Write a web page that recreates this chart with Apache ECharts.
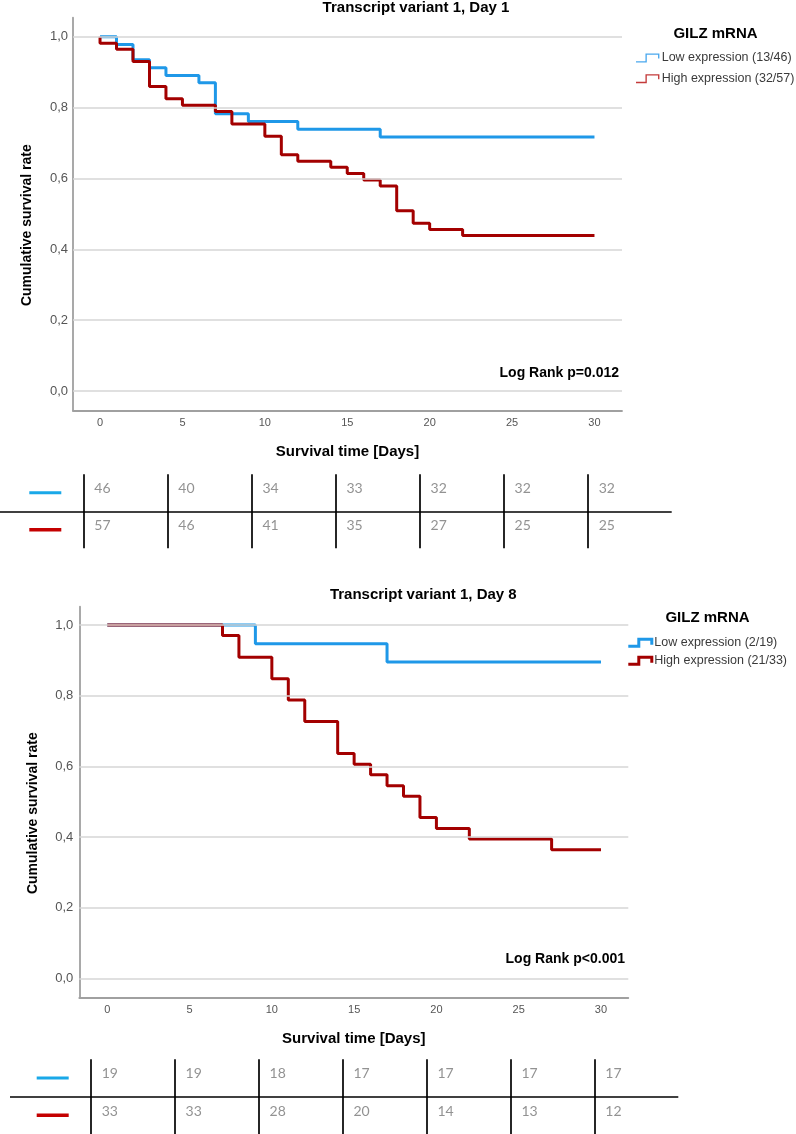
<!DOCTYPE html>
<html><head><meta charset="utf-8">
<script src="https://cdn.jsdelivr.net/npm/echarts@6/dist/echarts.min.js"></script>
<style>html,body{margin:0;padding:0;background:#fff}#c{width:796px;height:1134px}</style>
</head><body><div id="c"></div>
<script>
// ---------- data ----------
const TIME_TICKS = [0, 5, 10, 15, 20, 25, 30];
const Y_TICKS = [0, 0.2, 0.4, 0.6, 0.8, 1.0];
const RISK_COLUMNS = [0, 1, 2, 3, 4, 5, 6];

// Day 1
const d1Title = 'Transcript variant 1, Day 1';
const d1LowName = 'Low expression (13/46)';
const d1HighName = 'High expression (32/57)';
const d1LowTime = [0, 1, 2, 3, 4, 6, 7, 9, 12, 17, 30];
const d1LowSurv = [1, 0.978, 0.935, 0.913, 0.891, 0.870, 0.783, 0.761, 0.739, 0.717, 0.717];
const d1HighTime = [0, 0, 1, 2, 3, 4, 5, 7, 8, 10, 11, 12, 14, 15, 16, 17, 18, 19, 20, 22, 30];
const d1HighSurv = [1, 0.982, 0.965, 0.930, 0.860, 0.825, 0.807, 0.789, 0.754, 0.719, 0.667, 0.649, 0.632, 0.614, 0.596, 0.579, 0.509, 0.474, 0.456, 0.439, 0.439];
const d1LowRisk = [46, 40, 34, 33, 32, 32, 32];
const d1HighRisk = [57, 46, 41, 35, 27, 25, 25];
const d1LogRank = 'Log Rank p=0.012';

// Day 8
const d8Title = 'Transcript variant 1, Day 8';
const d8LowName = 'Low expression (2/19)';
const d8HighName = 'High expression (21/33)';
const d8LowTime = [0, 9, 17, 30];
const d8LowSurv = [1, 0.947, 0.895, 0.895];
const d8HighTime = [0, 7, 8, 10, 11, 12, 14, 15, 16, 17, 18, 19, 20, 22, 27, 30];
const d8HighSurv = [1, 0.970, 0.909, 0.848, 0.788, 0.727, 0.636, 0.606, 0.576, 0.545, 0.515, 0.455, 0.424, 0.394, 0.364, 0.364];
const d8LowRisk = [19, 19, 18, 17, 17, 17, 17];
const d8HighRisk = [33, 33, 28, 20, 14, 13, 12];
const d8LogRank = 'Log Rank p<0.001';

const LEGEND_TITLE = 'GILZ mRNA';
const X_NAME = 'Survival time [Days]';
const Y_NAME = 'Cumulative survival rate';

// ---------- style ----------
const FONT = '"Liberation Sans", Arial, sans-serif';
const BLUE = '#1f98e8';
const RED = '#a30000';
const AXIS_COLOR = '#a0a0a0';
const GRID_COLOR = '#d6d6d6';

const pts = (t, s) => t.map((v, i) => [v, s[i]]);
const riskRows = (arr, row) => arr.map((v, i) => [RISK_COLUMNS[i], row, v]);

function chartAxes(gridIndex, xmin, xmax, ymin, ymax, yLabelMargin) {
  const x = {
    type: 'value', gridIndex, min: xmin, max: xmax,
    axisLine: { show: true, onZero: false, lineStyle: { color: AXIS_COLOR, width: 1.8 } },
    axisTick: { show: false }, splitLine: { show: false },
    axisLabel: { customValues: TIME_TICKS, margin: 7, fontSize: 11, color: '#555', fontFamily: FONT },
    name: X_NAME, nameLocation: 'middle', nameGap: 34,
    nameTextStyle: { fontSize: 15, fontWeight: 'bold', color: '#000', fontFamily: FONT }
  };
  const y = {
    type: 'value', gridIndex, min: ymin, max: ymax, position: 'left',
    axisLine: { show: true, onZero: false, lineStyle: { color: AXIS_COLOR, width: 1.8 } },
    axisTick: { show: false }, splitLine: { show: false },
    axisLabel: { customValues: Y_TICKS, margin: yLabelMargin, fontSize: 13, color: '#555', fontFamily: FONT,
      formatter: v => v.toFixed(1).replace('.', ',') },
    name: Y_NAME, nameLocation: 'middle', nameGap: 39,
    nameTextStyle: { fontSize: 14, fontWeight: 'bold', color: '#000', fontFamily: FONT, padding: [0, 22, 0, 0] }
  };
  return [x, y];
}

function gridLineSeries(xi, yi) {
  return {
    type: 'line', xAxisIndex: xi, yAxisIndex: yi, data: [], z: 1,
    markLine: { silent: true, symbol: ['none', 'none'], label: { show: false }, animation: false,
      lineStyle: { color: GRID_COLOR, width: 1.5, type: 'solid' },
      data: Y_TICKS.map(v => ({ yAxis: v })) }
  };
}
function curve(name, xi, yi, data, color) {
  return { type: 'line', name, xAxisIndex: xi, yAxisIndex: yi, step: 'end', showSymbol: false, symbol: 'none',
    data, lineStyle: { color, width: 3 }, itemStyle: { color }, z: 3 };
}
function tableSeries(xi, yi, low, high) {
  return [
    { type: 'scatter', xAxisIndex: xi, yAxisIndex: yi, symbolSize: 0, silent: true,
      data: [...riskRows(low, 1.5), ...riskRows(high, 0.5)],
      label: { show: true, position: 'right', distance: 11, offset: [0, -4],
        formatter: p => String(p.value[2]), fontFamily: 'Lato, "Noto Sans", sans-serif', fontWeight: 'normal',
        fontSize: 14, color: '#777' } },
    { type: 'line', xAxisIndex: xi, yAxisIndex: yi, data: [],
      markLine: { silent: true, symbol: ['none', 'none'], label: { show: false }, animation: false,
        lineStyle: { color: '#000', width: 1.7, type: 'solid' },
        data: [...RISK_COLUMNS.map(c => ({ xAxis: c })), { yAxis: 1 }] } }
  ];
}
function tableAxes(gridIndex, xmin, markerMargin) {
  return {
    x: { type: 'value', gridIndex, min: xmin, max: 7, show: false },
    yv: { type: 'value', gridIndex, min: 0, max: 2, show: false, position: 'left' },
    yc: { type: 'category', gridIndex, data: ['High', 'Low'], position: 'left',
      axisLine: { show: false }, axisTick: { show: false }, splitLine: { show: false },
      axisLabel: { inside: true, margin: markerMargin,
        formatter: v => v === 'Low' ? '{lo| }' : '{hi| }',
        rich: { lo: { width: 32, height: 3, backgroundColor: '#19a8e8' },
                hi: { width: 32, height: 3.5, backgroundColor: '#c40000' } } } }
  };
}

const [x0, y0] = chartAxes(0, -1.64, 31.67, -0.0556, 1.054, 5);
const [x2, y2] = chartAxes(2, -1.70, 31.66, -0.0549, 1.0518, 6);
const t1 = tableAxes(1, -0.9908, 29.3);
const t2 = tableAxes(3, -0.9607, 26.7);

const ICON_THIN = 'path://M0,8.5L10.5,8.5L10.5,0L26,0L26,5.5L24.5,5.5L24.5,1.5L12,1.5L12,10L0,10Z';
const ICON_THICK = 'path://M0,7L9,7L9,0L25,0L25,7L22,7L22,3L12,3L12,10L0,10Z';

function titleAt(text, left, top, align, size, color) {
  return { text, left, top, textAlign: align, textVerticalAlign: 'middle', padding: 0,
    textStyle: { fontSize: size, fontWeight: 'bold', color: color || '#000', fontFamily: FONT } };
}

const option = {
  animation: false,
  backgroundColor: '#fff',
  title: [
    titleAt(d1Title, 416, 8, 'center', 15),
    titleAt(LEGEND_TITLE, 715.5, 33.5, 'center', 15),
    titleAt(d1LogRank, 619, 373.3, 'right', 14),
    titleAt(d8Title, 423.3, 595, 'center', 15),
    titleAt(LEGEND_TITLE, 707.5, 618.3, 'center', 15),
    titleAt(d8LogRank, 625, 959, 'right', 14)
  ],
  legend: [
    { orient: 'vertical', left: 636, top: 51.5, padding: 0, itemWidth: 26, itemHeight: 9, itemGap: 7.7,
      selectedMode: false, itemStyle: { borderWidth: 0 },
      textStyle: { fontSize: 12.5, color: '#3a3a3a', fontFamily: FONT, padding: [0, 0, 0, -4] },
      data: [ { name: d1LowName, icon: ICON_THIN, itemStyle: { color: '#4aa8ee' } },
              { name: d1HighName, icon: ICON_THIN, itemStyle: { color: '#c43a3a' } } ] },
    { orient: 'vertical', left: 628.3, top: 636.2, padding: 0, itemWidth: 25, itemHeight: 11, itemGap: 5,
      selectedMode: false, itemStyle: { borderWidth: 0 },
      textStyle: { fontSize: 12.5, color: '#3a3a3a', fontFamily: FONT, padding: [0, 0, 0, -4] },
      data: [ { name: d8LowName, icon: ICON_THICK, itemStyle: { color: BLUE } },
              { name: d8HighName, icon: ICON_THICK, itemStyle: { color: RED } } ] }
  ],
  grid: [
    { left: 73, top: 17.7, width: 549, height: 393 },
    { left: 0, top: 474.3, width: 671.7, height: 74 },
    { left: 79.3, top: 606.7, width: 549, height: 391 },
    { left: 10, top: 1059.3, width: 668.3, height: 74.7 }
  ],
  xAxis: [x0, t1.x, x2, t2.x],
  yAxis: [y0, t1.yv, t1.yc, y2, t2.yv, t2.yc],
  series: [
    gridLineSeries(0, 0),
    curve(d1LowName, 0, 0, pts(d1LowTime, d1LowSurv), BLUE),
    curve(d1HighName, 0, 0, pts(d1HighTime, d1HighSurv), RED),
    ...tableSeries(1, 1, d1LowRisk, d1HighRisk),
    gridLineSeries(2, 3),
    curve(d8LowName, 2, 3, pts(d8LowTime, d8LowSurv), BLUE),
    curve(d8HighName, 2, 3, pts(d8HighTime, d8HighSurv), RED),
    ...tableSeries(3, 4, d8LowRisk, d8HighRisk)
  ]
};

const chart = echarts.init(document.getElementById('c'), null, { renderer: 'canvas' });
chart.setOption(option);
</script>
</body></html>
